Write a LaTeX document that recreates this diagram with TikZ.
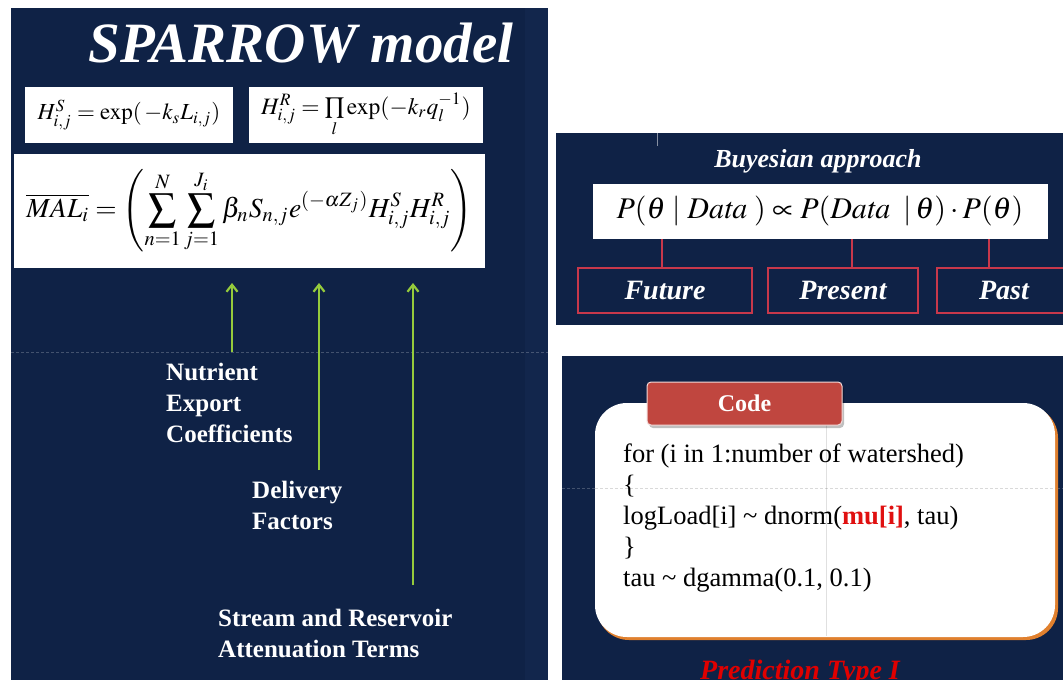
\documentclass[tikz,border=0pt]{standalone}
\usepackage{mathptmx}
\usepackage{graphicx}
\usepackage{fontspec}
\setmainfont{Liberation Serif}
\usetikzlibrary{arrows.meta}
\definecolor{navy}{HTML}{0F2246}
\definecolor{navyB}{HTML}{12264C}
\definecolor{arrowgreen}{HTML}{95CB3C}
\definecolor{boxred}{HTML}{C8384B}
\definecolor{tabred}{HTML}{C0463F}
\definecolor{shadeorange}{HTML}{E0802E}
\definecolor{predred}{HTML}{E00000}
\definecolor{muRed}{HTML}{E01010}
\tikzset{
  eqbox/.style={fill=white, draw=none, inner sep=0pt},
  garrow/.style={draw=arrowgreen, line width=2.6pt, -{Straight Barb[length=7pt,width=11pt,line width=2.2pt]}},
  lbl/.style={text=white, font=\fontsize{25}{31}\selectfont\bfseries, align=left, inner sep=0pt, anchor=north west},
  redline/.style={draw=boxred, line width=2pt},
  tagbox/.style={draw=boxred, line width=2pt, fill=navy, minimum height=45pt, inner sep=0pt,
                 text=white, font=\fontsize{28}{32}\selectfont\bfseries\itshape},
  gridfaint/.style={draw=white, opacity=0.22, line width=0.6pt, dash pattern=on 3pt off 2pt},
  gridgray/.style={draw=black, opacity=0.15, line width=0.6pt, dash pattern=on 3pt off 2pt},
}
\begin{document}
\begin{tikzpicture}[x=1pt,y=-1pt]
\useasboundingbox (0,0) rectangle (1063,680);
\fill[white] (0,0) rectangle (1063,680);
\begin{scope}
\clip (0,0) rectangle (1063,680);
% panels
\fill[navy] (11,8) rectangle (548,680);
\fill[navyB] (525,8) rectangle (548,680);
\fill[navy] (556,133) rectangle (1063,325);
\fill[navy] (562,356) rectangle (1063,680);
% faint slide guides
\draw[gridfaint] (11,352) -- (548,352);
\draw[gridfaint] (562,488) -- (1063,488);
\draw[draw=white, opacity=0.5, line width=1pt] (657,128) -- (657,146);

% ---------- left panel ----------
\node[text=white, font=\fontsize{57}{60}\selectfont\bfseries\itshape, anchor=base, inner sep=0pt] (title) at (301,62) {SPARROW model};

\node[eqbox, minimum width=208pt, minimum height=56pt] (hs) at (129,115)
  {\scalebox{2.3}{$H^{S}_{i,j} = \exp(\,-k_{s}L_{i,j})$}};
\node[eqbox, minimum width=234pt, minimum height=56pt] (hr) at (366,115)
  {\scalebox{2.35}{$H^{R}_{i,j} = \prod\limits_{l}\exp(-k_{r}q_{l}^{-1})$}};
\node[eqbox, minimum width=471pt, minimum height=114pt] (mal) at (249.5,211)
  {\scalebox{2.75}{$\displaystyle \overline{MAL_i} = \left(\sum_{n=1}^{N}\sum_{j=1}^{J_i}\beta_n S_{n,j}e^{(-\alpha Z_j)}H^{S}_{i,j}H^{R}_{i,j}\right)$}};

\node[lbl] (nutr) at (166,363) {Nutrient\\Export\\Coefficients};
\node[lbl] (deliv) at (252,481) {Delivery\\Factors};
\node[lbl] (strm) at (218,609) {Stream and Reservoir\\Attenuation Terms};

\coordinate (t1) at (232,283);
\coordinate (t2) at (319,283);
\coordinate (t3) at (413,283);
\coordinate (s1) at (232,352);
\coordinate (s2) at (319,470);
\coordinate (s3) at (413,585);
\draw[garrow] (s1) -- (t1);
\draw[garrow] (s2) -- (t2);
\draw[garrow] (s3) -- (t3);

% ---------- Bayesian panel ----------
\node[text=white, font=\fontsize{26}{30}\selectfont\bfseries\itshape, anchor=base, inner sep=0pt] (baytitle) at (818,167) {Buyesian approach};
\node[eqbox, minimum width=455pt, minimum height=55pt] (bay) at (820,211)
  {\scalebox{3.0}{$P(\theta \mid \mathit{Data}\;) \propto P(\mathit{Data}\;\;|\,\theta)\cdot P(\theta)$}};

\node[tagbox, minimum width=174pt] (fut) at (665,290.5) {Future};
\node[tagbox, minimum width=150pt] (pres) at (843,290.5) {Present};
\node[tagbox, minimum width=134pt] (past) at (1004,290.5) {Past};

\draw[redline] ([xshift=-3pt]fut.north) -- ([xshift=-3pt]fut.north |- bay.south);
\draw[redline] ([xshift=9pt]pres.north) -- ([xshift=9pt]pres.north |- bay.south);
\draw[redline] ([xshift=-15pt]past.north) -- ([xshift=-15pt]past.north |- bay.south);

% ---------- Code panel ----------
\fill[shadeorange, rounded corners=32pt] (597,406) rectangle (1058,640);
\fill[white, rounded corners=32pt] (595,403) rectangle (1055,637);
\draw[gridgray] (595,488) -- (1055,488);
\draw[draw=black, opacity=0.12, line width=0.6pt] (826,405) -- (826,636);
\fill[black, opacity=0.25, rounded corners=4pt] (649,385) rectangle (844,428);
\node[fill=tabred, draw=white!80!tabred, line width=1pt, rounded corners=4pt,
      minimum width=195pt, minimum height=43pt, inner sep=0pt,
      text=white, font=\fontsize{24}{28}\selectfont\bfseries] (codetab) at (744.5,403.5) {Code};

\node[anchor=north west, inner sep=0pt, align=left, text=black,
      font=\fontsize{26.5}{31}\selectfont] (code) at (623,444)
  {for (i in 1:number of watershed)\\
   \{\\
   logLoad[i] \textasciitilde{} dnorm({\color{muRed}\bfseries mu[i]}, tau)\\
   \}\\
   tau \textasciitilde{} dgamma(0.1, 0.1)};

\node[text=predred, font=\fontsize{28}{32}\selectfont\bfseries\itshape, anchor=base, inner sep=0pt] (pred) at (800,679) {Prediction Type I};
\end{scope}
\end{tikzpicture}
\end{document}
